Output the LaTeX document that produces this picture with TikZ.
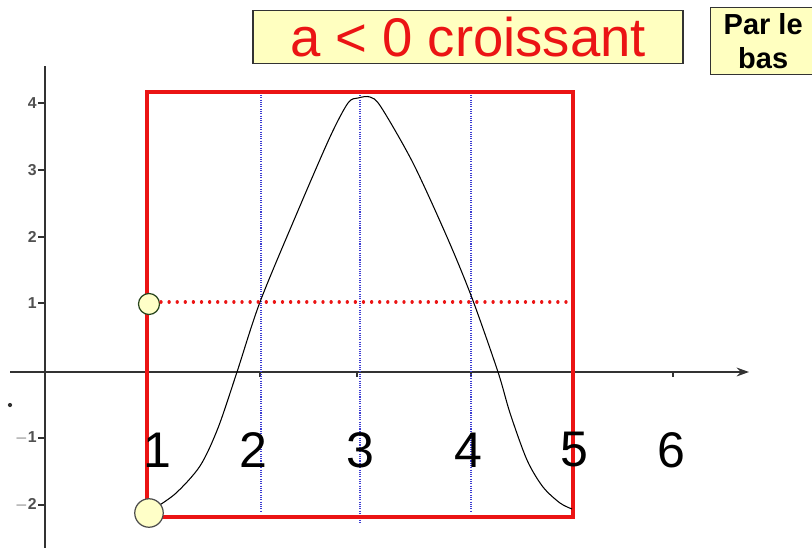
\documentclass[tikz,border=0pt]{standalone}
\usepackage{fontspec}
\setmainfont{Liberation Sans}
\usetikzlibrary{arrows.meta}
\definecolor{boxyellow}{RGB}{255,255,192}
\definecolor{circfill}{RGB}{255,255,200}
\definecolor{redline}{RGB}{235,20,20}
\definecolor{dotblue}{RGB}{60,60,210}
\definecolor{axisgray}{RGB}{50,50,50}
\definecolor{circgreen}{RGB}{40,70,30}
\tikzset{
  axisline/.style={draw=axisgray, line width=1.1pt},
  redframe/.style={draw=redline, line width=2.3pt},
  bluedots/.style={draw=dotblue, line width=0.7pt, dash pattern=on 0.6pt off 0.7pt},
  reddots/.style={draw=redline, line width=1.9pt, dash pattern=on 0.01pt off 4.6pt, line cap=round},
  bigdigit/.style={font=\fontsize{28.5}{28.5}\selectfont, text=black, inner sep=0pt},
  ticklab/.style={font=\bfseries\fontsize{9}{9}\selectfont, text=axisgray!85, inner sep=0pt, anchor=east},
  yellowbox/.style={draw=black!80, fill=boxyellow, line width=0.8pt},
  curve/.style={draw=black, line width=0.6pt}
}
\begin{document}
\begin{tikzpicture}[x=0.02cm, y=-0.02cm]
\useasboundingbox (0,0) rectangle (812,548);
% title boxes
\node[yellowbox, minimum width=8.6cm, minimum height=1.06cm, text=redline,
      font=\fontsize{31}{31}\selectfont, inner sep=0pt] (title) at (468,37) {a < 0 croissant};
\node[yellowbox, minimum width=2.1cm, minimum height=1.34cm, anchor=west, align=center,
      font=\bfseries\fontsize{16.5}{19}\selectfont, inner sep=0pt] (parbas) at (710,41) {Par le\\bas};
% axes
\coordinate (yt) at (45,66);
\coordinate (yb) at (45,548);
\coordinate (xl) at (10,372);
\coordinate (xr) at (749,372);
\draw[axisline] (yb) -- (yt);
\draw[axisline, -{Stealth[length=7pt,width=5pt]}] (xl) -- (xr);
% y ticks and labels
\foreach \v/\yy in {4/103,3/170,2/237,1/303,-1/438,-2/505}{
  \coordinate (yk\v) at (45,\yy);
  \coordinate (ykl\v) at (38,\yy);
  \draw[axisline, line width=0.8pt] (ykl\v) -- (yk\v);
  \node[ticklab] (yl\v) at (37,\yy) {\ifnum\v<0 $-$\number-\v\else\v\fi};
}
% x ticks
\foreach \xx in {260,357,471,673}{
  \coordinate (xt\xx) at (\xx,372);
  \coordinate (xu\xx) at (\xx,377);
  \draw[axisline, line width=0.6pt] (xt\xx) -- (xu\xx);
}
\fill[axisgray] (10,405) circle (1.2pt);
% blue dotted verticals
\foreach \xx/\yb in {261/512,360/523,471/512}{
  \coordinate (bt\xx) at (\xx,95);
  \coordinate (bb\xx) at (\xx,\yb);
  \draw[bluedots] (bt\xx) -- (bb\xx);
}
% red frame
\coordinate (r1) at (147,92);
\coordinate (r2) at (573,517);
\draw[redframe] (r1) rectangle (r2);
% curve
\draw[curve] plot[smooth, tension=0.5] coordinates {
 (150,511) (175,494) (200,466) (218,428) (237,372) (260,302)
 (297,213) (330,137) (348,103) (358,98) (370,97) (381,107) (413,163)
 (447,237) (472,298) (498,372) (510,413) (527,460) (543,487) (560,503) (572,509)};
% red dotted horizontal
\node[circle, draw=circgreen, fill=circfill, line width=0.7pt,
      minimum size=0.42cm, inner sep=0pt] (c1) at (149,304) {};
\coordinate (hd) at (570,302);
\draw[reddots] (c1.center) ++(12,-2) -- (hd);
% big circle
\node[circle, draw=black!70, fill=circfill, line width=0.7pt,
      minimum size=0.57cm, inner sep=0pt] (c2) at (149,513) {};
% big digits
\foreach \d/\xx in {1/157,2/253,3/360,4/468,5/574,6/671}{
  \node[bigdigit] (d\d) at (\xx,450) {\d};
}
\end{tikzpicture}
\end{document}
